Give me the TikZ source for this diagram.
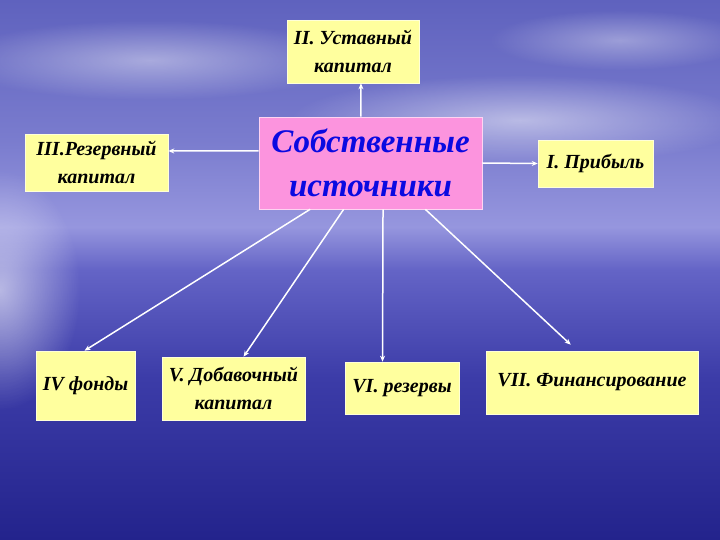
\documentclass[tikz,border=0pt]{standalone}
\usepackage{fontspec}
\setmainfont{Liberation Serif}
\usetikzlibrary{arrows.meta,calc,fadings}

\definecolor{deepsea}{RGB}{35,35,140}
\definecolor{midsea}{RGB}{60,60,168}
\definecolor{lowsky}{RGB}{100,100,198}
\definecolor{horizon}{RGB}{150,150,222}
\definecolor{sky}{RGB}{122,124,206}
\definecolor{topsky}{RGB}{95,98,190}
\definecolor{boxyellow}{RGB}{255,255,158}
\definecolor{boxpink}{RGB}{252,148,222}
\definecolor{srcblue}{RGB}{10,10,225}

\pgfdeclareverticalshading{seasky}{100bp}{color(0bp)=(deepsea); color(25bp)=(deepsea);
  color(40bp)=(midsea); color(50bp)=(lowsky); color(54bp)=(horizon);
  color(62bp)=(sky); color(75bp)=(topsky); color(100bp)=(topsky)}
\tikzfading[name=glow, inner color=transparent!30, outer color=transparent!100]

\begin{document}
\begin{tikzpicture}[x=1pt,y=-1pt,
	part/.style={fill=boxyellow,draw=white!60!boxyellow,line width=.6pt,inner sep=0pt,
		align=center,font=\fontsize{20}{28}\selectfont\bfseries\itshape},
	source/.style={fill=boxpink,draw=white!60!boxpink,line width=.6pt,inner sep=0pt,
		align=center,text=srcblue,font=\fontsize{33}{44}\selectfont\bfseries\itshape},
	link/.style={white,line width=1.5pt,-{Stealth[length=6pt,width=5pt]}}]

	% background: sky over sea
	\shade[shading=seasky] (0,0) rectangle (720,540);
	\useasboundingbox (0,0) rectangle (720,540);
	\fill[white,path fading=glow,opacity=.8] (0,290) ellipse (80 and 120);
	\fill[white,path fading=glow,opacity=.7] (520,120) ellipse (230 and 45);
	\fill[white,path fading=glow,opacity=.6] (150,60) ellipse (200 and 40);
	\fill[white,path fading=glow,opacity=.5] (620,40) ellipse (130 and 30);

	\node[source,minimum width=223,minimum height=92] (src) at (370.5,163) {Собственные\\источники};

	\node[part,minimum width=132,minimum height=63] (ust) at (353,51.5) {II. Уставный\\капитал};
	\node[part,minimum width=143,minimum height=57] (rez) at (96.5,162.5) {III.Резервный\\капитал};
	\node[part,minimum width=115,minimum height=47] (prib) at (595.5,163.5) {I. Прибыль};
	\node[part,minimum width=99,minimum height=69] (fond) at (85.5,385.5) {IV фонды};
	\node[part,minimum width=143,minimum height=63] (dob) at (233.5,388.5) {V. Добавочный\\капитал};
	\node[part,minimum width=114,minimum height=52] (rezerv) at (402,388) {VI. резервы};
	\node[part,minimum width=212,minimum height=63] (fin) at (592,382.5) {VII. Финансирование};

	\draw[link] ($(src.north west)!.457!(src.north east)$) -- ($(ust.south west)!.56!(ust.south east)$);
	\draw[link] ($(src.north west)!.37!(src.south west)$) -- ($(rez.north east)!.3!(rez.south east)$);
	\draw[link] (src.east) -- (prib.west);
	\draw[link] ($(src.south west)!.23!(src.south east)$) -- ($(fond.north west)!.49!(fond.north east)$);
	\draw[link] ($(src.south west)!.38!(src.south east)$) -- ($(dob.north west)!.57!(dob.north east)$);
	\draw[link] ($(src.south west)!.556!(src.south east)$) -- ($(rezerv.north west)!.33!(rezerv.north east)$);
	\draw[link] ($(src.south west)!.745!(src.south east)$) -- ($(fin.north west)!.4!(fin.north east)+(0,-6)$);
\end{tikzpicture}
\end{document}
